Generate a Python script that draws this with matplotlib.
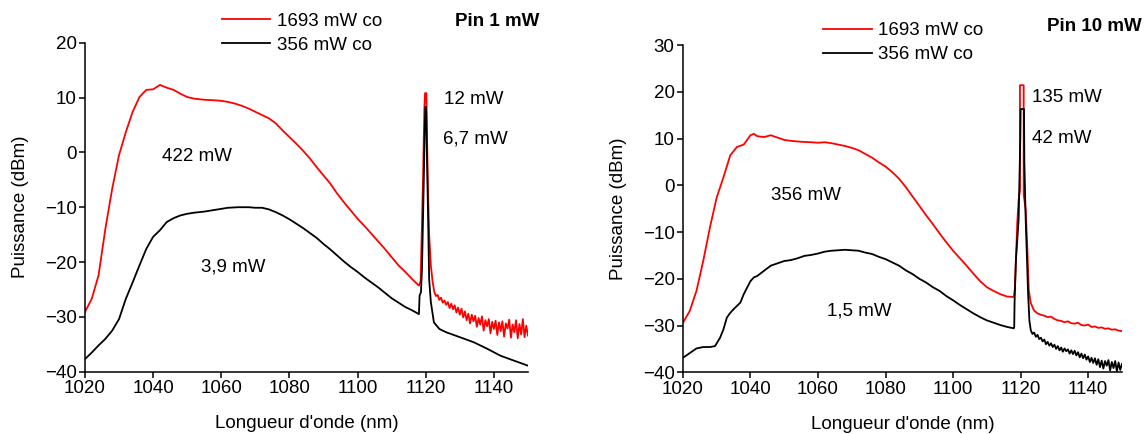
"""
Spectres de sortie (puissance vs longueur d'onde) pour Pin = 1 mW et Pin = 10 mW.
"""
import numpy as np
import matplotlib
matplotlib.use("Agg")
import matplotlib.pyplot as plt
from matplotlib.lines import Line2D

plt.rcParams["font.family"] = ["Liberation Sans", "DejaVu Sans"]

# --- Pin 1 mW, pompe 1693 mW (rouge) ---
red1_wl = [1020, 1022, 1024, 1026, 1028, 1030, 1032, 1034, 1036, 1038, 1040, 1042,
           1044, 1046, 1048, 1050, 1052, 1055, 1058, 1060, 1062, 1064, 1066, 1068,
           1070, 1072, 1074, 1076, 1078, 1080, 1082, 1084, 1086, 1088, 1090, 1092,
           1094, 1096, 1098, 1100, 1102, 1104, 1106, 1108, 1110, 1112, 1114, 1116,
           1118, 1118.5, 1118.8, 1119.2, 1119.6, 1119.8, 1120.2, 1120.4, 1120.7,
           1121.0, 1121.5, 1122.0]
red1_db = [-29.1, -26.7, -22.4, -13.9, -6.6, -0.5, 3.7, 7.4, 10.1, 11.4, 11.5, 12.3,
           11.8, 11.4, 10.7, 10.1, 9.8, 9.6, 9.5, 9.4, 9.2, 8.9, 8.5, 8.0,
           7.4, 6.8, 6.2, 5.3, 4.0, 2.8, 1.6, 0.3, -1.1, -2.7, -4.2, -5.7,
           -7.5, -9.1, -10.6, -12.1, -13.4, -14.8, -16.2, -17.6, -19.1, -20.6, -21.8, -23.1,
           -24.3, -23.5, -15.5, -5.0, 8.0, 10.8, 10.8, 2.0, -8.0,
           -15.0, -20.6, -23.5]
red1_tail_wl = np.arange(1122.5, 1150.01, 0.5)
red1_tail_db = [-25.4, -26.2, -26.0, -26.9, -26.5, -27.4, -27.0, -27.8, -27.3, -28.4,
                -27.6, -28.6, -27.9, -29.2, -28.3, -29.6, -28.5, -30.1, -29.0, -30.6,
                -29.4, -31.2, -29.6, -30.8, -29.8, -31.8, -30.2, -31.4, -29.9, -32.5,
                -30.6, -31.7, -30.4, -33.0, -30.9, -32.2, -30.7, -33.3, -31.0, -32.6,
                -30.8, -33.6, -31.2, -32.1, -30.5, -33.8, -31.4, -32.8, -30.6, -33.9,
                -31.3, -33.2, -30.4, -33.7, -31.6, -33.4]

# --- Pin 1 mW, pompe 356 mW (noir) ---
black1_wl = [1020, 1022, 1024, 1026, 1028, 1030, 1032, 1034, 1036, 1038, 1040, 1042,
             1044, 1046, 1048, 1050, 1052, 1055, 1058, 1060, 1062, 1065, 1068, 1070,
             1072, 1074, 1076, 1078, 1080, 1082, 1084, 1086, 1088, 1090, 1092, 1094,
             1096, 1098, 1100, 1102, 1104, 1106, 1108, 1110, 1112, 1114, 1116, 1118,
             1118.2, 1118.6, 1118.9, 1119.3, 1119.7, 1119.9, 1120.1, 1120.4, 1120.7,
             1121.0, 1121.5, 1122.4, 1124, 1126, 1130, 1134, 1138, 1142, 1146, 1150]
black1_db = [-37.7, -36.5, -35.2, -34.0, -32.5, -30.4, -26.7, -23.7, -20.6, -17.6, -15.4, -14.2,
             -12.7, -12.0, -11.5, -11.2, -11.0, -10.8, -10.5, -10.3, -10.1, -10.0, -10.0, -10.1,
             -10.1, -10.4, -10.9, -11.5, -12.2, -13.0, -13.8, -14.7, -15.6, -16.7, -17.7, -18.8,
             -19.9, -20.9, -21.8, -22.8, -23.7, -24.6, -25.6, -26.6, -27.4, -28.2, -28.8, -29.5,
             -26.1, -25.5, -21.2, -9.1, 4.0, 8.3, 8.3, -2.0, -12.0,
             -23.1, -27.3, -31.0, -32.2, -32.8, -33.7, -34.6, -35.8, -37.1, -38.0, -38.9]

# --- Pin 10 mW, pompe 1693 mW (rouge) ---
red10_wl = [1020, 1022, 1024, 1026, 1028, 1030, 1032, 1034, 1036, 1038, 1040, 1041,
            1042, 1044, 1046, 1048, 1050, 1052, 1055, 1058, 1060, 1062, 1064, 1066,
            1068, 1070, 1072, 1074, 1076, 1078, 1080, 1082, 1084, 1086, 1088, 1090,
            1092, 1094, 1096, 1098, 1100, 1102, 1104, 1106, 1108, 1110, 1112, 1114,
            1116, 1118, 1118.3, 1118.6, 1119.0, 1119.4, 1119.8, 1119.8, 1120.9, 1120.9,
            1121.5, 1122.0, 1122.4]
red10_db = [-29.4, -26.9, -22.6, -16.2, -9.0, -2.6, 1.7, 6.4, 8.2, 8.7, 10.7, 11.0,
            10.5, 10.3, 10.7, 10.2, 9.7, 9.5, 9.3, 9.2, 9.1, 9.2, 9.0, 8.7,
            8.4, 8.0, 7.5, 6.7, 5.9, 4.9, 4.0, 2.8, 1.4, -0.4, -2.4, -4.4,
            -6.4, -8.3, -10.3, -12.2, -14.0, -15.6, -17.2, -18.9, -20.5, -21.8, -22.6, -23.3,
            -23.8, -23.9, -21.9, -16.0, -8.0, -3.2, -1.0, 21.4, 21.4, -2.0,
            -5.3, -13.8, -22.4]
red10_tail_wl = np.arange(1123, 1150.01, 1.0)
red10_tail_db = [-25.2, -26.8, -27.4, -27.7, -27.9, -28.2, -28.1, -28.6, -28.9, -29.0,
                 -29.3, -29.1, -29.5, -29.6, -29.4, -29.9, -30.0, -29.8, -30.3, -30.2,
                 -30.5, -30.4, -30.7, -30.6, -30.9, -30.8, -31.1, -31.2]

# --- Pin 10 mW, pompe 356 mW (noir) ---
black10_wl = [1020, 1022, 1024, 1026, 1028, 1029.5, 1031, 1032, 1033, 1034, 1035, 1036,
              1037, 1038, 1039, 1040, 1041, 1042, 1044, 1046, 1048, 1050, 1052, 1054,
              1056, 1058, 1060, 1062, 1064, 1066, 1068, 1070, 1072, 1074, 1076, 1078,
              1080, 1082, 1084, 1086, 1088, 1090, 1092, 1094, 1096, 1098, 1100, 1102,
              1104, 1106, 1108, 1110, 1112, 1114, 1116, 1118, 1118.1, 1118.2, 1118.6,
              1119.4, 1119.9, 1120.0, 1121.0, 1121.1, 1121.5, 1122.2, 1122.6]
black10_db = [-36.9, -35.9, -34.9, -34.6, -34.6, -34.4, -32.6, -30.8, -28.3, -27.3, -26.5, -25.8,
              -25.1, -23.3, -21.9, -20.5, -19.7, -19.4, -18.3, -17.2, -16.7, -16.2, -16.0, -15.6,
              -15.1, -14.9, -14.6, -14.2, -14.0, -13.9, -13.8, -13.9, -14.0, -14.4, -14.7, -15.3,
              -15.8, -16.5, -17.2, -18.2, -19.0, -20.0, -20.8, -21.8, -22.6, -23.7, -24.6, -25.6,
              -26.5, -27.4, -28.2, -28.9, -29.4, -29.9, -30.3, -30.6, -30.2, -25.2, -16.0,
              -7.4, 10.0, 16.3, 16.3, 5.0, -7.4, -23.0, -29.0]
black10_tail_wl = np.arange(1123, 1150.01, 0.5)
black10_tail_db = [-31.0, -31.8, -31.5, -32.4, -32.0, -32.9, -32.6, -33.4, -33.0, -34.0,
                   -33.5, -34.3, -33.8, -34.6, -34.1, -35.0, -34.4, -35.3, -34.7, -35.6,
                   -34.9, -35.5, -35.1, -36.0, -35.3, -36.1, -35.4, -36.4, -35.7, -36.8,
                   -36.0, -37.0, -36.2, -37.3, -36.6, -37.8, -36.9, -38.0, -37.0, -38.4,
                   -37.2, -38.9, -37.5, -39.2, -37.6, -38.6, -37.4, -39.6, -37.8, -39.1,
                   -37.6, -39.8, -37.9, -39.5, -38.2]

legend_labels = ["1693 mW co", "356 mW co"]
pin1_notes = [("422 mW", 1052.8, -0.8, "center"), ("3,9 mW", 1063.6, -20.9, "center"),
              ("12 mW", 1125.3, 9.7, "left"), ("6,7 mW", 1125.1, 2.5, "left")]
pin10_notes = [("356 mW", 1056.3, -2.2, "center"), ("1,5 mW", 1072.2, -26.8, "center"),
               ("135 mW", 1123.5, 18.7, "left"), ("42 mW", 1123.5, 10.0, "left")]

FS = 13.5
LW = 1.3


def style_axes(ax, ymax):
    ax.set_xlim(1020, 1150)
    ax.set_ylim(-40, ymax)
    ax.set_xticks(range(1020, 1141, 20))
    ax.set_yticks(range(-40, ymax + 1, 10))
    for side in ("top", "right"):
        ax.spines[side].set_visible(False)
    for side in ("left", "bottom"):
        ax.spines[side].set_linewidth(1.1)
    ax.tick_params(direction="out", length=4, width=1.1, labelsize=FS, pad=2)
    ax.set_xlabel("Longueur d'onde (nm)", fontsize=FS, labelpad=13)
    ax.set_ylabel("Puissance (dBm)", fontsize=FS, labelpad=11)


def plot_panel(ax, red_wl, red_db, black_wl, black_db, notes, ymax):
    ax.plot(red_wl, red_db, color="#ff0000", lw=LW)
    ax.plot(black_wl, black_db, color="black", lw=LW)
    for text, x, y, ha in notes:
        ax.text(x, y, text, fontsize=FS, ha=ha, va="center")
    style_axes(ax, ymax)


def add_legend(fig, x0, y0):
    handles = [Line2D([], [], color="#ff0000", lw=LW), Line2D([], [], color="black", lw=LW)]
    fig.legend(handles, legend_labels, loc="upper left", bbox_to_anchor=(x0, y0),
               frameon=False, fontsize=FS, handlelength=2.6, handletextpad=0.35,
               labelspacing=0.36, borderpad=0, borderaxespad=0)


def main():
    fig = plt.figure(figsize=(11.48, 4.34), dpi=100)
    ax1 = fig.add_axes([0.0740, 0.1435, 0.3859, 0.7581])
    ax2 = fig.add_axes([0.5949, 0.1422, 0.3824, 0.7541])

    plot_panel(ax1,
               list(red1_wl) + list(red1_tail_wl), red1_db + red1_tail_db,
               black1_wl, black1_db, pin1_notes, 20)
    plot_panel(ax2,
               list(red10_wl) + list(red10_tail_wl), red10_db + red10_tail_db,
               list(black10_wl) + list(black10_tail_wl), black10_db + black10_tail_db,
               pin10_notes, 30)

    add_legend(fig, 0.1931, 0.9710)
    add_legend(fig, 0.7169, 0.9490)
    fig.text(0.3963, 0.950, "Pin 1 mW", fontsize=FS, fontweight="bold", va="center")
    fig.text(0.9118, 0.939, "Pin 10 mW", fontsize=FS, fontweight="bold", va="center")

    fig.savefig("out.png", dpi=100)


if __name__ == "__main__":
    main()
